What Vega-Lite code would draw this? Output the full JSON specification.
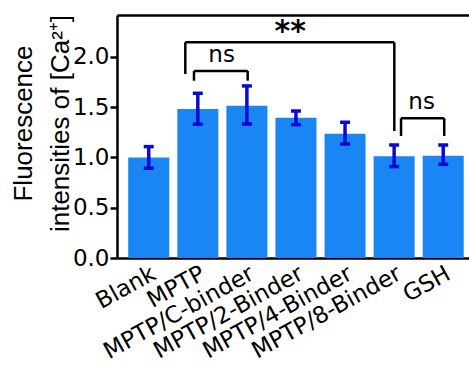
{
  "$schema": "https://vega.github.io/schema/vega-lite/v6.json",
  "autosize": "none",
  "padding": {"left": 117, "top": 15, "right": 0, "bottom": 115},
  "width": 352,
  "height": 243,
  "background": "white",
  "config": {
    "font": "DejaVu Sans",
    "view": {"stroke": null},
    "style": {"guide-title": {"lineBreak": "\n"}},
    "axis": {"labelColor": "black", "titleColor": "black", "domainColor": "black", "tickColor": "black", "grid": false}
  },
  "datasets": {
    "bars": [
      {"group": "Blank", "mean": 1.0, "lo": 0.892, "hi": 1.107},
      {"group": "MPTP", "mean": 1.481, "lo": 1.329, "hi": 1.637},
      {"group": "MPTP/C-binder", "mean": 1.514, "lo": 1.332, "hi": 1.71},
      {"group": "MPTP/2-Binder", "mean": 1.395, "lo": 1.325, "hi": 1.461},
      {"group": "MPTP/4-Binder", "mean": 1.236, "lo": 1.133, "hi": 1.349},
      {"group": "MPTP/8-Binder", "mean": 1.011, "lo": 0.908, "hi": 1.123},
      {"group": "GSH", "mean": 1.017, "lo": 0.931, "hi": 1.123}
    ],
    "brackets": [
      {"x": 0.744, "x2": 5.003, "y": 2.144, "y2": 2.144},
      {"x": 0.744, "x2": 0.744, "y": 2.144, "y2": 1.829},
      {"x": 5.003, "x2": 5.003, "y": 2.144, "y2": 1.262},
      {"x": 0.921, "x2": 2.015, "y": 1.859, "y2": 1.859},
      {"x": 0.921, "x2": 0.921, "y": 1.859, "y2": 1.762},
      {"x": 2.015, "x2": 2.015, "y": 1.859, "y2": 1.762},
      {"x": 5.14, "x2": 6.02, "y": 1.389, "y2": 1.389},
      {"x": 5.14, "x2": 5.14, "y": 1.389, "y2": 1.213},
      {"x": 6.02, "x2": 6.02, "y": 1.389, "y2": 1.213}
    ],
    "labels": [
      {"x": 1.484, "y": 2.018, "text": "ns"},
      {"x": 5.56, "y": 1.554, "text": "ns"}
    ],
    "stars": [
      {"x": 2.88, "y": 2.25, "text": "**"}
    ]
  },
  "layer": [
    {
      "data": {"name": "bars"},
      "layer": [
        {
          "mark": {"type": "bar", "color": "#1a86f4"},
          "encoding": {
            "x": {
              "field": "group", "type": "nominal", "sort": null,
              "scale": {"paddingInner": 0.164, "paddingOuter": 0.168, "align": 0.68},
              "axis": {
                "title": null, "labelAngle": -29, "labelFontSize": 23, "labelPadding": 4, "labelLimit": 400,
                "ticks": false, "domainWidth": 2.5, "labelAlign": "right", "labelBaseline": "top"
              }
            },
            "y": {
              "field": "mean", "type": "quantitative",
              "scale": {"domain": [0, 2.415], "nice": false, "zero": true},
              "axis": {
                "title": "Fluorescence\nintensities of [Ca²⁺]",
                "values": [0, 0.5, 1, 1.5, 2], "format": ".1f",
                "labelFontSize": 23, "labelPadding": 1, "tickSize": 7, "tickWidth": 2.5, "domainWidth": 2.5,
                "titleFont": "Liberation Sans", "titleFontSize": 26, "titleFontWeight": "normal", "titleLineHeight": 37,
                "titleAngle": -90, "titleAlign": "center", "titleBaseline": "top",
                "titleX": -107, "titleY": 108
              }
            }
          }
        },
        {
          "mark": {"type": "rule", "color": "#0a0ad6", "strokeWidth": 3.5},
          "encoding": {
            "x": {"field": "group", "type": "nominal", "sort": null},
            "y": {"field": "lo", "type": "quantitative", "axis": {"title": "Fluorescence\nintensities of [Ca²⁺]"}},
            "y2": {"field": "hi"}
          }
        },
        {
          "mark": {"type": "tick", "color": "#0a0ad6", "size": 10, "thickness": 3.5, "opacity": 1},
          "encoding": {
            "x": {"field": "group", "type": "nominal", "sort": null},
            "y": {"field": "lo", "type": "quantitative", "axis": {"title": "Fluorescence\nintensities of [Ca²⁺]"}}
          }
        },
        {
          "mark": {"type": "tick", "color": "#0a0ad6", "size": 10, "thickness": 3.5, "opacity": 1},
          "encoding": {
            "x": {"field": "group", "type": "nominal", "sort": null},
            "y": {"field": "hi", "type": "quantitative", "axis": {"title": "Fluorescence\nintensities of [Ca²⁺]"}}
          }
        }
      ]
    },
    {
      "layer": [
        {
          "data": {"name": "brackets"},
          "mark": {"type": "rule", "color": "black", "strokeWidth": 2.5},
          "encoding": {
            "x": {
              "field": "x", "type": "quantitative",
              "scale": {"domain": [-0.648, 6.525], "nice": false, "zero": false},
              "axis": {"orient": "top", "labels": false, "ticks": false, "title": null, "domainWidth": 2.5, "grid": false}
            },
            "x2": {"field": "x2"},
            "y": {"field": "y", "type": "quantitative", "axis": {"title": "Fluorescence\nintensities of [Ca²⁺]"}},
            "y2": {"field": "y2"}
          }
        },
        {
          "data": {"name": "labels"},
          "mark": {"type": "text", "color": "black", "baseline": "middle", "align": "center", "fontSize": 23},
          "encoding": {
            "x": {"field": "x", "type": "quantitative"},
            "y": {"field": "y", "type": "quantitative", "axis": {"title": "Fluorescence\nintensities of [Ca²⁺]"}},
            "text": {"field": "text"}
          }
        },
        {
          "data": {"name": "stars"},
          "mark": {"type": "text", "color": "black", "baseline": "middle", "align": "center", "fontSize": 30, "fontWeight": "bold"},
          "encoding": {
            "x": {"field": "x", "type": "quantitative"},
            "y": {"field": "y", "type": "quantitative", "axis": {"title": "Fluorescence\nintensities of [Ca²⁺]"}},
            "text": {"field": "text"}
          }
        }
      ]
    }
  ],
  "resolve": {"scale": {"x": "independent"}}
}
